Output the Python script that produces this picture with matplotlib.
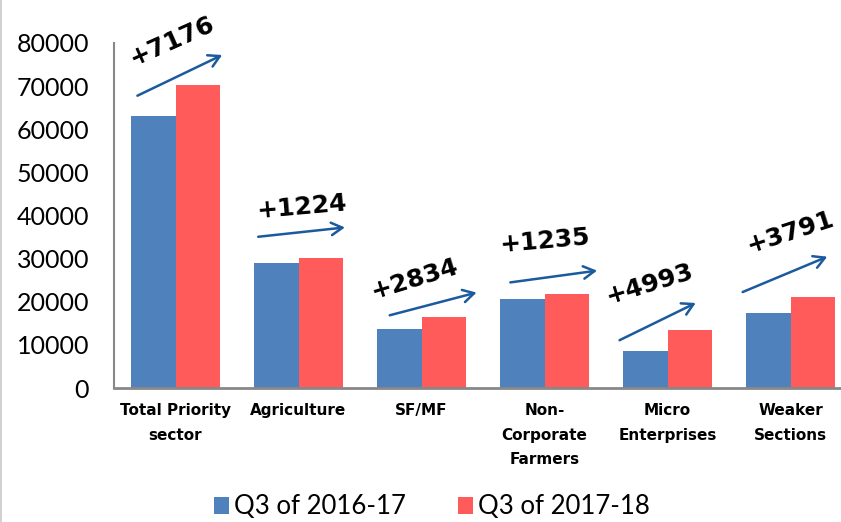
import numpy as np
import matplotlib.pyplot as plt
from matplotlib.lines import Line2D

# DATA
categories = ['Total Priority\nsector', 'Agriculture', 'SF/MF',
              'Non-\nCorporate\nFarmers', 'Micro\nEnterprises', 'Weaker\nSections']
q3_2016 = [63000, 29000, 13600, 20600, 8500, 17400]
q3_2017 = [70176, 30224, 16434, 21835, 13493, 21191]
growth = ['+7176', '+1224', '+2834', '+1235', '+4993', '+3791']

# arrow placement per group (dx start, y start, dx end, y end, text dx, text y, rotation)
arrow_spec = [
    (-0.33, 67500, 0.40, 77500, -0.03, 80500, 24),
    (-0.35, 35000, 0.40, 37300, 0.03, 42000, 5),
    (-0.28, 16700, 0.47, 22300, -0.06, 25300, 17),
    (-0.30, 24400, 0.45, 27300, 0.00, 34000, 5),
    (-0.41, 10800, 0.25, 20000, -0.15, 24000, 17),
    (-0.41, 22000, 0.32, 30700, 0.00, 36000, 18),
]

blue = '#4F81BD'
red = '#FF5B5B'
arrow_col = '#1C5A9E'

fig = plt.figure(figsize=(8.41, 5.22), dpi=100)
ax = fig.add_axes([114/841, 1-388/522, 738/841, 345/522])

x = np.arange(len(categories))
w = 0.362
ax.bar(x - w/2, q3_2016, w, color=blue, label='Q3 of 2016-17')
ax.bar(x + w/2, q3_2017, w, color=red, label='Q3 of 2017-18')

ax.set_xlim(-0.5, len(categories) - 0.5)
ax.set_ylim(0, 80000)
ax.set_yticks(np.arange(0, 80001, 10000))
ax.tick_params(axis='y', length=0, pad=18, labelsize=18)
ax.tick_params(axis='x', length=0, pad=11)
for lab in ax.get_yticklabels():
    lab.set_fontfamily(['Lato', 'DejaVu Sans'])
ax.set_xticks(x)
ax.set_xticklabels(categories, fontsize=11, fontweight='bold',
                   linespacing=1.8, va='top')

for s in ['top', 'right']:
    ax.spines[s].set_visible(False)
ax.spines['left'].set_color('#888888')
ax.spines['bottom'].set_color('#888888')
ax.spines['left'].set_linewidth(1.5)
ax.spines['bottom'].set_linewidth(2)

for i, (x0, y0, x1, y1, tx, ty, rot) in enumerate(arrow_spec):
    ax.annotate('', xy=(i + x1, y1), xytext=(i + x0, y0),
                arrowprops=dict(arrowstyle='->,head_length=0.8,head_width=0.45',
                                color=arrow_col, lw=1.8),
                annotation_clip=False)
    ax.text(i + tx, ty, growth[i], fontsize=18, fontweight='bold',
            rotation=rot, ha='center', va='center', clip_on=False)

fig.legend(loc='center', bbox_to_anchor=(432/841, 1-507/522), ncol=2,
           frameon=False, handlelength=0.6, handleheight=0.6,
           handletextpad=0.2, columnspacing=2.0,
           prop={'family': ['Lato', 'DejaVu Sans'], 'size': 18.5})

# thin frame line at the left edge, as in the source slide
fig.add_artist(Line2D([0.001, 0.001], [0, 1], color='#C8C8C8', lw=1.2,
                      transform=fig.transFigure))

fig.savefig('out.png', dpi=100)
